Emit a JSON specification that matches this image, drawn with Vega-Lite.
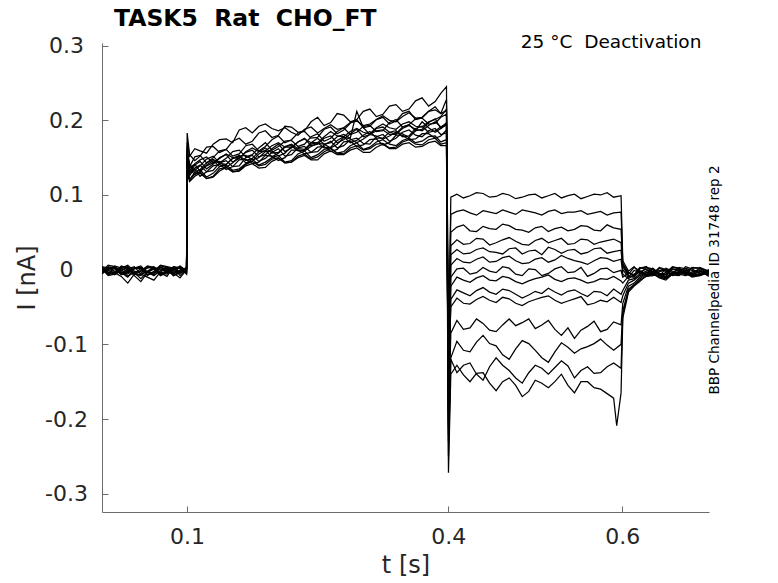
{
  "$schema": "https://vega.github.io/schema/vega-lite/v6.json",
  "width": 607,
  "height": 469,
  "autosize": {"type": "none"},
  "padding": {"left": 102, "top": 43, "right": 69, "bottom": 71},
  "background": "white",
  "config": {"view": {"stroke": null}, "font": "DejaVu Sans"},
  "title": {
    "text": "TASK5\u00a0\u00a0Rat\u00a0\u00a0CHO_FT",
    "anchor": "start",
    "frame": "group",
    "dx": 12,
    "dy": 21,
    "offset": 4,
    "baseline": "alphabetic",
    "font": "DejaVu Sans",
    "fontSize": 23.5,
    "fontWeight": "bold",
    "color": "black"
  },
  "layer": [
    {
      "data": {"values": [
        {"s":1,"t":0.0025,"i":-0.002},{"s":1,"t":0.017,"i":0.004},{"s":1,"t":0.032,"i":-0.006},{"s":1,"t":0.047,"i":0.001},{"s":1,"t":0.062,"i":-0.004},{"s":1,"t":0.077,"i":0.003},{"s":1,"t":0.092,"i":-0.001},{"s":1,"t":0.0995,"i":0.002},
        {"s":1,"t":0.1002,"i":0.183},
        {"s":1,"t":0.103,"i":0.154},{"s":1,"t":0.115,"i":0.152},{"s":1,"t":0.13,"i":0.165},{"s":1,"t":0.145,"i":0.161},{"s":1,"t":0.16,"i":0.176},{"s":1,"t":0.175,"i":0.172},{"s":1,"t":0.19,"i":0.186},{"s":1,"t":0.205,"i":0.180},{"s":1,"t":0.22,"i":0.191},{"s":1,"t":0.235,"i":0.186},{"s":1,"t":0.25,"i":0.204},{"s":1,"t":0.265,"i":0.197},{"s":1,"t":0.28,"i":0.207},{"s":1,"t":0.295,"i":0.201},{"s":1,"t":0.31,"i":0.215},{"s":1,"t":0.325,"i":0.208},{"s":1,"t":0.34,"i":0.221},{"s":1,"t":0.355,"i":0.215},{"s":1,"t":0.37,"i":0.230},{"s":1,"t":0.385,"i":0.225},{"s":1,"t":0.398,"i":0.245},
        {"s":1,"t":0.4003,"i":-0.12},
        {"s":1,"t":0.403,"i":0.097},{"s":1,"t":0.41,"i":0.101},{"s":1,"t":0.425,"i":0.099},{"s":1,"t":0.44,"i":0.102},{"s":1,"t":0.455,"i":0.098},{"s":1,"t":0.47,"i":0.100},{"s":1,"t":0.485,"i":0.097},{"s":1,"t":0.5,"i":0.101},{"s":1,"t":0.515,"i":0.099},{"s":1,"t":0.53,"i":0.096},{"s":1,"t":0.545,"i":0.101},{"s":1,"t":0.56,"i":0.098},{"s":1,"t":0.575,"i":0.100},{"s":1,"t":0.59,"i":0.097},{"s":1,"t":0.5985,"i":0.099},
        {"s":1,"t":0.6005,"i":0.012},{"s":1,"t":0.607,"i":-0.002},{"s":1,"t":0.62,"i":-0.006},{"s":1,"t":0.635,"i":0.001},{"s":1,"t":0.65,"i":-0.004},{"s":1,"t":0.665,"i":0.002},{"s":1,"t":0.68,"i":-0.007},{"s":1,"t":0.6993,"i":-0.002},
        {"s":1,"t":0.0095,"i":0.006},{"s":1,"t":0.0245,"i":-0.003},{"s":1,"t":0.0395,"i":0.003},{"s":1,"t":0.0545,"i":-0.007},{"s":1,"t":0.0695,"i":0.005},{"s":1,"t":0.0845,"i":-0.005},
        {"s":1,"t":0.109,"i":0.146},{"s":1,"t":0.1225,"i":0.164},{"s":1,"t":0.1375,"i":0.157},{"s":1,"t":0.1525,"i":0.172},{"s":1,"t":0.1675,"i":0.168},{"s":1,"t":0.1825,"i":0.183},{"s":1,"t":0.1975,"i":0.177},{"s":1,"t":0.2125,"i":0.192},{"s":1,"t":0.2275,"i":0.184},{"s":1,"t":0.2425,"i":0.198},{"s":1,"t":0.2575,"i":0.193},{"s":1,"t":0.2725,"i":0.209},{"s":1,"t":0.2875,"i":0.198},{"s":1,"t":0.3025,"i":0.212},{"s":1,"t":0.3175,"i":0.205},{"s":1,"t":0.3325,"i":0.219},{"s":1,"t":0.3475,"i":0.212},{"s":1,"t":0.3625,"i":0.226},{"s":1,"t":0.3775,"i":0.219},{"s":1,"t":0.3915,"i":0.236},
        {"s":1,"t":0.4175,"i":0.096},{"s":1,"t":0.4325,"i":0.103},{"s":1,"t":0.4475,"i":0.097},{"s":1,"t":0.4625,"i":0.102},{"s":1,"t":0.4775,"i":0.095},{"s":1,"t":0.4925,"i":0.100},{"s":1,"t":0.5075,"i":0.096},{"s":1,"t":0.5225,"i":0.102},{"s":1,"t":0.5375,"i":0.099},{"s":1,"t":0.5525,"i":0.095},{"s":1,"t":0.5675,"i":0.101},{"s":1,"t":0.5825,"i":0.103},
        {"s":1,"t":0.6135,"i":0.004},{"s":1,"t":0.6275,"i":0.003},{"s":1,"t":0.6425,"i":-0.007},{"s":1,"t":0.6575,"i":0.004},{"s":1,"t":0.6725,"i":-0.003},{"s":1,"t":0.689,"i":0.003},

        {"s":2,"t":0.0025,"i":0.003},{"s":2,"t":0.017,"i":-0.005},{"s":2,"t":0.032,"i":0.002},{"s":2,"t":0.047,"i":-0.008},{"s":2,"t":0.062,"i":0.001},{"s":2,"t":0.077,"i":-0.003},{"s":2,"t":0.092,"i":0.004},{"s":2,"t":0.0995,"i":-0.001},
        {"s":2,"t":0.1002,"i":0.165},
        {"s":2,"t":0.103,"i":0.138},{"s":2,"t":0.115,"i":0.153},{"s":2,"t":0.13,"i":0.150},{"s":2,"t":0.145,"i":0.161},{"s":2,"t":0.16,"i":0.155},{"s":2,"t":0.175,"i":0.168},{"s":2,"t":0.19,"i":0.165},{"s":2,"t":0.205,"i":0.179},{"s":2,"t":0.22,"i":0.174},{"s":2,"t":0.235,"i":0.185},{"s":2,"t":0.25,"i":0.177},{"s":2,"t":0.265,"i":0.191},{"s":2,"t":0.28,"i":0.187},{"s":2,"t":0.295,"i":0.201},{"s":2,"t":0.31,"i":0.192},{"s":2,"t":0.325,"i":0.204},{"s":2,"t":0.34,"i":0.199},{"s":2,"t":0.355,"i":0.212},{"s":2,"t":0.37,"i":0.203},{"s":2,"t":0.385,"i":0.214},{"s":2,"t":0.398,"i":0.228},
        {"s":2,"t":0.4003,"i":-0.09},
        {"s":2,"t":0.403,"i":0.074},{"s":2,"t":0.41,"i":0.078},{"s":2,"t":0.425,"i":0.076},{"s":2,"t":0.44,"i":0.079},{"s":2,"t":0.455,"i":0.075},{"s":2,"t":0.47,"i":0.077},{"s":2,"t":0.485,"i":0.080},{"s":2,"t":0.5,"i":0.076},{"s":2,"t":0.515,"i":0.078},{"s":2,"t":0.53,"i":0.075},{"s":2,"t":0.545,"i":0.077},{"s":2,"t":0.56,"i":0.074},{"s":2,"t":0.575,"i":0.078},{"s":2,"t":0.59,"i":0.076},{"s":2,"t":0.5985,"i":0.077},
        {"s":2,"t":0.6005,"i":0.008},{"s":2,"t":0.607,"i":-0.004},{"s":2,"t":0.62,"i":0.002},{"s":2,"t":0.635,"i":-0.005},{"s":2,"t":0.65,"i":0.000},{"s":2,"t":0.665,"i":-0.006},{"s":2,"t":0.68,"i":0.001},{"s":2,"t":0.6993,"i":-0.004},
        {"s":2,"t":0.0095,"i":-0.004},{"s":2,"t":0.0245,"i":0.005},{"s":2,"t":0.0395,"i":-0.006},{"s":2,"t":0.0545,"i":0.004},{"s":2,"t":0.0695,"i":-0.007},{"s":2,"t":0.0845,"i":0.002},
        {"s":2,"t":0.109,"i":0.151},{"s":2,"t":0.1225,"i":0.143},{"s":2,"t":0.1375,"i":0.159},{"s":2,"t":0.1525,"i":0.152},{"s":2,"t":0.1675,"i":0.166},{"s":2,"t":0.1825,"i":0.159},{"s":2,"t":0.1975,"i":0.174},{"s":2,"t":0.2125,"i":0.170},{"s":2,"t":0.2275,"i":0.183},{"s":2,"t":0.2425,"i":0.176},{"s":2,"t":0.2575,"i":0.188},{"s":2,"t":0.2725,"i":0.182},{"s":2,"t":0.2875,"i":0.196},{"s":2,"t":0.3025,"i":0.190},{"s":2,"t":0.3175,"i":0.201},{"s":2,"t":0.3325,"i":0.195},{"s":2,"t":0.3475,"i":0.209},{"s":2,"t":0.3625,"i":0.201},{"s":2,"t":0.3775,"i":0.212},{"s":2,"t":0.3915,"i":0.209},
        {"s":2,"t":0.4175,"i":0.080},{"s":2,"t":0.4325,"i":0.073},{"s":2,"t":0.4475,"i":0.077},{"s":2,"t":0.4625,"i":0.080},{"s":2,"t":0.4775,"i":0.074},{"s":2,"t":0.4925,"i":0.078},{"s":2,"t":0.5075,"i":0.073},{"s":2,"t":0.5225,"i":0.080},{"s":2,"t":0.5375,"i":0.077},{"s":2,"t":0.5525,"i":0.079},{"s":2,"t":0.5675,"i":0.076},{"s":2,"t":0.5825,"i":0.073},
        {"s":2,"t":0.6135,"i":-0.007},{"s":2,"t":0.6275,"i":0.004},{"s":2,"t":0.6425,"i":0.003},{"s":2,"t":0.6575,"i":-0.008},{"s":2,"t":0.6725,"i":0.004},{"s":2,"t":0.689,"i":-0.006},

        {"s":3,"t":0.0025,"i":-0.004},{"s":3,"t":0.017,"i":0.002},{"s":3,"t":0.032,"i":-0.003},{"s":3,"t":0.047,"i":0.005},{"s":3,"t":0.062,"i":-0.007},{"s":3,"t":0.077,"i":0.000},{"s":3,"t":0.092,"i":-0.002},{"s":3,"t":0.0995,"i":0.003},
        {"s":3,"t":0.1002,"i":0.158},
        {"s":3,"t":0.103,"i":0.141},{"s":3,"t":0.115,"i":0.139},{"s":3,"t":0.13,"i":0.152},{"s":3,"t":0.145,"i":0.149},{"s":3,"t":0.16,"i":0.160},{"s":3,"t":0.175,"i":0.154},{"s":3,"t":0.19,"i":0.170},{"s":3,"t":0.205,"i":0.165},{"s":3,"t":0.22,"i":0.173},{"s":3,"t":0.235,"i":0.168},{"s":3,"t":0.25,"i":0.182},{"s":3,"t":0.265,"i":0.176},{"s":3,"t":0.28,"i":0.190},{"s":3,"t":0.295,"i":0.184},{"s":3,"t":0.31,"i":0.193},{"s":3,"t":0.325,"i":0.186},{"s":3,"t":0.34,"i":0.201},{"s":3,"t":0.355,"i":0.194},{"s":3,"t":0.37,"i":0.203},{"s":3,"t":0.385,"i":0.196},{"s":3,"t":0.398,"i":0.208},
        {"s":3,"t":0.4003,"i":-0.15},
        {"s":3,"t":0.403,"i":0.050},{"s":3,"t":0.41,"i":0.057},{"s":3,"t":0.425,"i":0.052},{"s":3,"t":0.44,"i":0.058},{"s":3,"t":0.455,"i":0.054},{"s":3,"t":0.47,"i":0.059},{"s":3,"t":0.485,"i":0.053},{"s":3,"t":0.5,"i":0.056},{"s":3,"t":0.515,"i":0.051},{"s":3,"t":0.53,"i":0.057},{"s":3,"t":0.545,"i":0.054},{"s":3,"t":0.56,"i":0.058},{"s":3,"t":0.575,"i":0.052},{"s":3,"t":0.59,"i":0.056},{"s":3,"t":0.5985,"i":0.054},
        {"s":3,"t":0.6005,"i":0.006},{"s":3,"t":0.607,"i":-0.006},{"s":3,"t":0.62,"i":-0.001},{"s":3,"t":0.635,"i":-0.008},{"s":3,"t":0.65,"i":-0.002},{"s":3,"t":0.665,"i":0.003},{"s":3,"t":0.68,"i":-0.005},{"s":3,"t":0.6993,"i":-0.001},
        {"s":3,"t":0.0095,"i":0.004},{"s":3,"t":0.0245,"i":-0.006},{"s":3,"t":0.0395,"i":0.002},{"s":3,"t":0.0545,"i":-0.004},{"s":3,"t":0.0695,"i":0.003},{"s":3,"t":0.0845,"i":-0.008},
        {"s":3,"t":0.109,"i":0.133},{"s":3,"t":0.1225,"i":0.148},{"s":3,"t":0.1375,"i":0.143},{"s":3,"t":0.1525,"i":0.158},{"s":3,"t":0.1675,"i":0.151},{"s":3,"t":0.1825,"i":0.163},{"s":3,"t":0.1975,"i":0.160},{"s":3,"t":0.2125,"i":0.172},{"s":3,"t":0.2275,"i":0.165},{"s":3,"t":0.2425,"i":0.178},{"s":3,"t":0.2575,"i":0.172},{"s":3,"t":0.2725,"i":0.185},{"s":3,"t":0.2875,"i":0.181},{"s":3,"t":0.3025,"i":0.192},{"s":3,"t":0.3175,"i":0.185},{"s":3,"t":0.3325,"i":0.197},{"s":3,"t":0.3475,"i":0.191},{"s":3,"t":0.3625,"i":0.202},{"s":3,"t":0.3775,"i":0.195},{"s":3,"t":0.3915,"i":0.204},
        {"s":3,"t":0.4175,"i":0.060},{"s":3,"t":0.4325,"i":0.051},{"s":3,"t":0.4475,"i":0.055},{"s":3,"t":0.4625,"i":0.061},{"s":3,"t":0.4775,"i":0.054},{"s":3,"t":0.4925,"i":0.050},{"s":3,"t":0.5075,"i":0.058},{"s":3,"t":0.5225,"i":0.055},{"s":3,"t":0.5375,"i":0.052},{"s":3,"t":0.5525,"i":0.059},{"s":3,"t":0.5675,"i":0.053},{"s":3,"t":0.5825,"i":0.060},
        {"s":3,"t":0.6135,"i":0.003},{"s":3,"t":0.6275,"i":-0.009},{"s":3,"t":0.6425,"i":0.002},{"s":3,"t":0.6575,"i":-0.006},{"s":3,"t":0.6725,"i":0.001},{"s":3,"t":0.689,"i":-0.007},

        {"s":4,"t":0.0025,"i":0.001},{"s":4,"t":0.017,"i":-0.006},{"s":4,"t":0.032,"i":0.004},{"s":4,"t":0.047,"i":-0.002},{"s":4,"t":0.062,"i":0.003},{"s":4,"t":0.077,"i":-0.009},{"s":4,"t":0.092,"i":0.002},{"s":4,"t":0.0995,"i":-0.003},
        {"s":4,"t":0.1002,"i":0.152},
        {"s":4,"t":0.103,"i":0.130},{"s":4,"t":0.115,"i":0.145},{"s":4,"t":0.13,"i":0.141},{"s":4,"t":0.145,"i":0.154},{"s":4,"t":0.16,"i":0.149},{"s":4,"t":0.175,"i":0.160},{"s":4,"t":0.19,"i":0.154},{"s":4,"t":0.205,"i":0.168},{"s":4,"t":0.22,"i":0.163},{"s":4,"t":0.235,"i":0.176},{"s":4,"t":0.25,"i":0.168},{"s":4,"t":0.265,"i":0.179},{"s":4,"t":0.28,"i":0.174},{"s":4,"t":0.295,"i":0.188},{"s":4,"t":0.31,"i":0.181},{"s":4,"t":0.325,"i":0.191},{"s":4,"t":0.34,"i":0.182},{"s":4,"t":0.355,"i":0.194},{"s":4,"t":0.37,"i":0.188},{"s":4,"t":0.385,"i":0.202},{"s":4,"t":0.398,"i":0.194},
        {"s":4,"t":0.4003,"i":-0.17},
        {"s":4,"t":0.403,"i":0.032},{"s":4,"t":0.41,"i":0.040},{"s":4,"t":0.425,"i":0.035},{"s":4,"t":0.44,"i":0.041},{"s":4,"t":0.455,"i":0.036},{"s":4,"t":0.47,"i":0.043},{"s":4,"t":0.485,"i":0.034},{"s":4,"t":0.5,"i":0.039},{"s":4,"t":0.515,"i":0.036},{"s":4,"t":0.53,"i":0.042},{"s":4,"t":0.545,"i":0.035},{"s":4,"t":0.56,"i":0.040},{"s":4,"t":0.575,"i":0.037},{"s":4,"t":0.59,"i":0.041},{"s":4,"t":0.5985,"i":0.036},
        {"s":4,"t":0.6005,"i":0.004},{"s":4,"t":0.607,"i":-0.008},{"s":4,"t":0.62,"i":0.001},{"s":4,"t":0.635,"i":-0.003},{"s":4,"t":0.65,"i":-0.009},{"s":4,"t":0.665,"i":-0.001},{"s":4,"t":0.68,"i":0.003},{"s":4,"t":0.6993,"i":-0.006},
        {"s":4,"t":0.0095,"i":-0.008},{"s":4,"t":0.0245,"i":0.003},{"s":4,"t":0.0395,"i":-0.005},{"s":4,"t":0.0545,"i":0.005},{"s":4,"t":0.0695,"i":-0.004},{"s":4,"t":0.0845,"i":0.004},
        {"s":4,"t":0.109,"i":0.140},{"s":4,"t":0.1225,"i":0.135},{"s":4,"t":0.1375,"i":0.150},{"s":4,"t":0.1525,"i":0.144},{"s":4,"t":0.1675,"i":0.157},{"s":4,"t":0.1825,"i":0.151},{"s":4,"t":0.1975,"i":0.162},{"s":4,"t":0.2125,"i":0.158},{"s":4,"t":0.2275,"i":0.171},{"s":4,"t":0.2425,"i":0.166},{"s":4,"t":0.2575,"i":0.176},{"s":4,"t":0.2725,"i":0.170},{"s":4,"t":0.2875,"i":0.182},{"s":4,"t":0.3025,"i":0.178},{"s":4,"t":0.3175,"i":0.189},{"s":4,"t":0.3325,"i":0.184},{"s":4,"t":0.3475,"i":0.191},{"s":4,"t":0.3625,"i":0.186},{"s":4,"t":0.3775,"i":0.197},{"s":4,"t":0.3915,"i":0.189},
        {"s":4,"t":0.4175,"i":0.034},{"s":4,"t":0.4325,"i":0.042},{"s":4,"t":0.4475,"i":0.033},{"s":4,"t":0.4625,"i":0.040},{"s":4,"t":0.4775,"i":0.038},{"s":4,"t":0.4925,"i":0.033},{"s":4,"t":0.5075,"i":0.042},{"s":4,"t":0.5225,"i":0.039},{"s":4,"t":0.5375,"i":0.034},{"s":4,"t":0.5525,"i":0.041},{"s":4,"t":0.5675,"i":0.034},{"s":4,"t":0.5825,"i":0.039},
        {"s":4,"t":0.6135,"i":-0.010},{"s":4,"t":0.6275,"i":0.004},{"s":4,"t":0.6425,"i":-0.006},{"s":4,"t":0.6575,"i":0.001},{"s":4,"t":0.6725,"i":-0.007},{"s":4,"t":0.689,"i":0.002},

        {"s":5,"t":0.0025,"i":-0.006},{"s":5,"t":0.017,"i":0.001},{"s":5,"t":0.032,"i":-0.010},{"s":5,"t":0.047,"i":0.003},{"s":5,"t":0.062,"i":-0.002},{"s":5,"t":0.077,"i":0.004},{"s":5,"t":0.092,"i":-0.005},{"s":5,"t":0.0995,"i":0.000},
        {"s":5,"t":0.1002,"i":0.149},
        {"s":5,"t":0.103,"i":0.135},{"s":5,"t":0.115,"i":0.131},{"s":5,"t":0.13,"i":0.146},{"s":5,"t":0.145,"i":0.141},{"s":5,"t":0.16,"i":0.152},{"s":5,"t":0.175,"i":0.145},{"s":5,"t":0.19,"i":0.160},{"s":5,"t":0.205,"i":0.156},{"s":5,"t":0.22,"i":0.167},{"s":5,"t":0.235,"i":0.160},{"s":5,"t":0.25,"i":0.170},{"s":5,"t":0.265,"i":0.164},{"s":5,"t":0.28,"i":0.178},{"s":5,"t":0.295,"i":0.173},{"s":5,"t":0.31,"i":0.185},{"s":5,"t":0.325,"i":0.176},{"s":5,"t":0.34,"i":0.186},{"s":5,"t":0.355,"i":0.179},{"s":5,"t":0.37,"i":0.192},{"s":5,"t":0.385,"i":0.186},{"s":5,"t":0.398,"i":0.194},
        {"s":5,"t":0.4003,"i":-0.19},
        {"s":5,"t":0.403,"i":0.020},{"s":5,"t":0.41,"i":0.027},{"s":5,"t":0.425,"i":0.022},{"s":5,"t":0.44,"i":0.029},{"s":5,"t":0.455,"i":0.023},{"s":5,"t":0.47,"i":0.028},{"s":5,"t":0.485,"i":0.021},{"s":5,"t":0.5,"i":0.026},{"s":5,"t":0.515,"i":0.030},{"s":5,"t":0.53,"i":0.022},{"s":5,"t":0.545,"i":0.027},{"s":5,"t":0.56,"i":0.023},{"s":5,"t":0.575,"i":0.029},{"s":5,"t":0.59,"i":0.024},{"s":5,"t":0.5985,"i":0.026},
        {"s":5,"t":0.6005,"i":0.000},{"s":5,"t":0.607,"i":-0.010},{"s":5,"t":0.62,"i":-0.004},{"s":5,"t":0.635,"i":0.002},{"s":5,"t":0.65,"i":-0.006},{"s":5,"t":0.665,"i":0.001},{"s":5,"t":0.68,"i":-0.008},{"s":5,"t":0.6993,"i":0.000},
        {"s":5,"t":0.0095,"i":0.003},{"s":5,"t":0.0245,"i":-0.004},{"s":5,"t":0.0395,"i":0.001},{"s":5,"t":0.0545,"i":-0.008},{"s":5,"t":0.0695,"i":0.006},{"s":5,"t":0.0845,"i":-0.002},
        {"s":5,"t":0.109,"i":0.127},{"s":5,"t":0.1225,"i":0.140},{"s":5,"t":0.1375,"i":0.138},{"s":5,"t":0.1525,"i":0.149},{"s":5,"t":0.1675,"i":0.143},{"s":5,"t":0.1825,"i":0.155},{"s":5,"t":0.1975,"i":0.151},{"s":5,"t":0.2125,"i":0.164},{"s":5,"t":0.2275,"i":0.159},{"s":5,"t":0.2425,"i":0.168},{"s":5,"t":0.2575,"i":0.163},{"s":5,"t":0.2725,"i":0.173},{"s":5,"t":0.2875,"i":0.170},{"s":5,"t":0.3025,"i":0.180},{"s":5,"t":0.3175,"i":0.176},{"s":5,"t":0.3325,"i":0.184},{"s":5,"t":0.3475,"i":0.178},{"s":5,"t":0.3625,"i":0.189},{"s":5,"t":0.3775,"i":0.184},{"s":5,"t":0.3915,"i":0.191},
        {"s":5,"t":0.4175,"i":0.021},{"s":5,"t":0.4325,"i":0.027},{"s":5,"t":0.4475,"i":0.024},{"s":5,"t":0.4625,"i":0.021},{"s":5,"t":0.4775,"i":0.029},{"s":5,"t":0.4925,"i":0.025},{"s":5,"t":0.5075,"i":0.020},{"s":5,"t":0.5225,"i":0.027},{"s":5,"t":0.5375,"i":0.026},{"s":5,"t":0.5525,"i":0.021},{"s":5,"t":0.5675,"i":0.028},{"s":5,"t":0.5825,"i":0.022},
        {"s":5,"t":0.6135,"i":-0.001},{"s":5,"t":0.6275,"i":-0.008},{"s":5,"t":0.6425,"i":-0.005},{"s":5,"t":0.6575,"i":0.003},{"s":5,"t":0.6725,"i":-0.003},{"s":5,"t":0.689,"i":-0.006},

        {"s":6,"t":0.0025,"i":0.002},{"s":6,"t":0.017,"i":-0.003},{"s":6,"t":0.032,"i":0.006},{"s":6,"t":0.047,"i":-0.005},{"s":6,"t":0.062,"i":0.001},{"s":6,"t":0.077,"i":-0.004},{"s":6,"t":0.092,"i":0.003},{"s":6,"t":0.0995,"i":-0.006},
        {"s":6,"t":0.1002,"i":0.147},
        {"s":6,"t":0.103,"i":0.126},{"s":6,"t":0.115,"i":0.140},{"s":6,"t":0.13,"i":0.133},{"s":6,"t":0.145,"i":0.146},{"s":6,"t":0.16,"i":0.139},{"s":6,"t":0.175,"i":0.153},{"s":6,"t":0.19,"i":0.149},{"s":6,"t":0.205,"i":0.162},{"s":6,"t":0.22,"i":0.154},{"s":6,"t":0.235,"i":0.165},{"s":6,"t":0.25,"i":0.158},{"s":6,"t":0.265,"i":0.172},{"s":6,"t":0.28,"i":0.166},{"s":6,"t":0.295,"i":0.176},{"s":6,"t":0.31,"i":0.168},{"s":6,"t":0.325,"i":0.181},{"s":6,"t":0.34,"i":0.176},{"s":6,"t":0.355,"i":0.187},{"s":6,"t":0.37,"i":0.178},{"s":6,"t":0.385,"i":0.189},{"s":6,"t":0.398,"i":0.183},
        {"s":6,"t":0.4003,"i":-0.21},
        {"s":6,"t":0.403,"i":0.006},{"s":6,"t":0.41,"i":0.015},{"s":6,"t":0.425,"i":0.009},{"s":6,"t":0.44,"i":0.017},{"s":6,"t":0.455,"i":0.011},{"s":6,"t":0.47,"i":0.018},{"s":6,"t":0.485,"i":0.008},{"s":6,"t":0.5,"i":0.014},{"s":6,"t":0.515,"i":0.010},{"s":6,"t":0.53,"i":0.019},{"s":6,"t":0.545,"i":0.012},{"s":6,"t":0.56,"i":0.007},{"s":6,"t":0.575,"i":0.016},{"s":6,"t":0.59,"i":0.011},{"s":6,"t":0.5985,"i":0.014},
        {"s":6,"t":0.6005,"i":-0.006},{"s":6,"t":0.607,"i":-0.012},{"s":6,"t":0.62,"i":-0.003},{"s":6,"t":0.635,"i":-0.007},{"s":6,"t":0.65,"i":0.002},{"s":6,"t":0.665,"i":-0.005},{"s":6,"t":0.68,"i":-0.001},{"s":6,"t":0.6993,"i":-0.007},
        {"s":6,"t":0.0095,"i":-0.006},{"s":6,"t":0.0245,"i":0.002},{"s":6,"t":0.0395,"i":-0.002},{"s":6,"t":0.0545,"i":0.004},{"s":6,"t":0.0695,"i":-0.008},{"s":6,"t":0.0845,"i":0.000},
        {"s":6,"t":0.109,"i":0.136},{"s":6,"t":0.1225,"i":0.131},{"s":6,"t":0.1375,"i":0.143},{"s":6,"t":0.1525,"i":0.138},{"s":6,"t":0.1675,"i":0.150},{"s":6,"t":0.1825,"i":0.145},{"s":6,"t":0.1975,"i":0.157},{"s":6,"t":0.2125,"i":0.152},{"s":6,"t":0.2275,"i":0.163},{"s":6,"t":0.2425,"i":0.157},{"s":6,"t":0.2575,"i":0.167},{"s":6,"t":0.2725,"i":0.163},{"s":6,"t":0.2875,"i":0.174},{"s":6,"t":0.3025,"i":0.169},{"s":6,"t":0.3175,"i":0.178},{"s":6,"t":0.3325,"i":0.172},{"s":6,"t":0.3475,"i":0.184},{"s":6,"t":0.3625,"i":0.180},{"s":6,"t":0.3775,"i":0.186},{"s":6,"t":0.3915,"i":0.181},
        {"s":6,"t":0.4175,"i":0.010},{"s":6,"t":0.4325,"i":0.014},{"s":6,"t":0.4475,"i":0.010},{"s":6,"t":0.4625,"i":0.016},{"s":6,"t":0.4775,"i":0.012},{"s":6,"t":0.4925,"i":0.009},{"s":6,"t":0.5075,"i":0.016},{"s":6,"t":0.5225,"i":0.013},{"s":6,"t":0.5375,"i":0.015},{"s":6,"t":0.5525,"i":0.010},{"s":6,"t":0.5675,"i":0.012},{"s":6,"t":0.5825,"i":0.015},
        {"s":6,"t":0.6135,"i":-0.006},{"s":6,"t":0.6275,"i":0.001},{"s":6,"t":0.6425,"i":-0.009},{"s":6,"t":0.6575,"i":-0.002},{"s":6,"t":0.6725,"i":0.002},{"s":6,"t":0.689,"i":-0.004},

        {"s":7,"t":0.0025,"i":-0.003},{"s":7,"t":0.017,"i":0.004},{"s":7,"t":0.032,"i":-0.001},{"s":7,"t":0.047,"i":-0.012},{"s":7,"t":0.062,"i":0.002},{"s":7,"t":0.077,"i":-0.001},{"s":7,"t":0.092,"i":-0.008},{"s":7,"t":0.0995,"i":0.001},
        {"s":7,"t":0.1002,"i":0.142},
        {"s":7,"t":0.103,"i":0.129},{"s":7,"t":0.115,"i":0.125},{"s":7,"t":0.13,"i":0.139},{"s":7,"t":0.145,"i":0.134},{"s":7,"t":0.16,"i":0.147},{"s":7,"t":0.175,"i":0.142},{"s":7,"t":0.19,"i":0.153},{"s":7,"t":0.205,"i":0.146},{"s":7,"t":0.22,"i":0.160},{"s":7,"t":0.235,"i":0.155},{"s":7,"t":0.25,"i":0.164},{"s":7,"t":0.265,"i":0.158},{"s":7,"t":0.28,"i":0.171},{"s":7,"t":0.295,"i":0.165},{"s":7,"t":0.31,"i":0.174},{"s":7,"t":0.325,"i":0.167},{"s":7,"t":0.34,"i":0.180},{"s":7,"t":0.355,"i":0.174},{"s":7,"t":0.37,"i":0.182},{"s":7,"t":0.385,"i":0.176},{"s":7,"t":0.398,"i":0.187},
        {"s":7,"t":0.4003,"i":-0.16},
        {"s":7,"t":0.403,"i":-0.010},{"s":7,"t":0.41,"i":0.001},{"s":7,"t":0.425,"i":-0.006},{"s":7,"t":0.44,"i":0.003},{"s":7,"t":0.455,"i":-0.004},{"s":7,"t":0.47,"i":0.002},{"s":7,"t":0.485,"i":-0.008},{"s":7,"t":0.5,"i":0.000},{"s":7,"t":0.515,"i":-0.005},{"s":7,"t":0.53,"i":0.004},{"s":7,"t":0.545,"i":-0.003},{"s":7,"t":0.56,"i":-0.009},{"s":7,"t":0.575,"i":0.001},{"s":7,"t":0.59,"i":-0.004},{"s":7,"t":0.5985,"i":-0.001},
        {"s":7,"t":0.6005,"i":-0.010},{"s":7,"t":0.607,"i":-0.004},{"s":7,"t":0.62,"i":0.003},{"s":7,"t":0.635,"i":-0.006},{"s":7,"t":0.65,"i":-0.002},{"s":7,"t":0.665,"i":-0.008},{"s":7,"t":0.68,"i":0.002},{"s":7,"t":0.6993,"i":-0.003},
        {"s":7,"t":0.0095,"i":0.001},{"s":7,"t":0.0245,"i":-0.006},{"s":7,"t":0.0395,"i":-0.004},{"s":7,"t":0.0545,"i":-0.003},{"s":7,"t":0.0695,"i":-0.006},{"s":7,"t":0.0845,"i":0.003},
        {"s":7,"t":0.109,"i":0.135},{"s":7,"t":0.1225,"i":0.131},{"s":7,"t":0.1375,"i":0.141},{"s":7,"t":0.1525,"i":0.138},{"s":7,"t":0.1675,"i":0.148},{"s":7,"t":0.1825,"i":0.144},{"s":7,"t":0.1975,"i":0.152},{"s":7,"t":0.2125,"i":0.150},{"s":7,"t":0.2275,"i":0.160},{"s":7,"t":0.2425,"i":0.157},{"s":7,"t":0.2575,"i":0.165},{"s":7,"t":0.2725,"i":0.161},{"s":7,"t":0.2875,"i":0.172},{"s":7,"t":0.3025,"i":0.167},{"s":7,"t":0.3175,"i":0.175},{"s":7,"t":0.3325,"i":0.170},{"s":7,"t":0.3475,"i":0.180},{"s":7,"t":0.3625,"i":0.175},{"s":7,"t":0.3775,"i":0.182},{"s":7,"t":0.3915,"i":0.179},
        {"s":7,"t":0.4175,"i":0.002},{"s":7,"t":0.4325,"i":-0.004},{"s":7,"t":0.4475,"i":-0.002},{"s":7,"t":0.4625,"i":0.004},{"s":7,"t":0.4775,"i":-0.006},{"s":7,"t":0.4925,"i":0.001},{"s":7,"t":0.5075,"i":-0.008},{"s":7,"t":0.5225,"i":0.001},{"s":7,"t":0.5375,"i":-0.004},{"s":7,"t":0.5525,"i":0.003},{"s":7,"t":0.5675,"i":-0.005},{"s":7,"t":0.5825,"i":0.002},
        {"s":7,"t":0.6135,"i":-0.008},{"s":7,"t":0.6275,"i":0.000},{"s":7,"t":0.6425,"i":-0.001},{"s":7,"t":0.6575,"i":-0.007},{"s":7,"t":0.6725,"i":-0.002},{"s":7,"t":0.689,"i":0.002},

        {"s":8,"t":0.0025,"i":0.004},{"s":8,"t":0.017,"i":-0.002},{"s":8,"t":0.032,"i":0.001},{"s":8,"t":0.047,"i":-0.006},{"s":8,"t":0.062,"i":-0.014},{"s":8,"t":0.077,"i":0.002},{"s":8,"t":0.092,"i":-0.004},{"s":8,"t":0.0995,"i":0.003},
        {"s":8,"t":0.1002,"i":0.140},
        {"s":8,"t":0.103,"i":0.121},{"s":8,"t":0.115,"i":0.134},{"s":8,"t":0.13,"i":0.129},{"s":8,"t":0.145,"i":0.140},{"s":8,"t":0.16,"i":0.135},{"s":8,"t":0.175,"i":0.148},{"s":8,"t":0.19,"i":0.144},{"s":8,"t":0.205,"i":0.153},{"s":8,"t":0.22,"i":0.146},{"s":8,"t":0.235,"i":0.159},{"s":8,"t":0.25,"i":0.154},{"s":8,"t":0.265,"i":0.163},{"s":8,"t":0.28,"i":0.158},{"s":8,"t":0.295,"i":0.170},{"s":8,"t":0.31,"i":0.164},{"s":8,"t":0.325,"i":0.174},{"s":8,"t":0.34,"i":0.166},{"s":8,"t":0.355,"i":0.176},{"s":8,"t":0.37,"i":0.172},{"s":8,"t":0.385,"i":0.179},{"s":8,"t":0.398,"i":0.174},
        {"s":8,"t":0.4003,"i":-0.22},
        {"s":8,"t":0.403,"i":-0.022},{"s":8,"t":0.41,"i":-0.010},{"s":8,"t":0.425,"i":-0.017},{"s":8,"t":0.44,"i":-0.008},{"s":8,"t":0.455,"i":-0.015},{"s":8,"t":0.47,"i":-0.011},{"s":8,"t":0.485,"i":-0.019},{"s":8,"t":0.5,"i":-0.012},{"s":8,"t":0.515,"i":-0.007},{"s":8,"t":0.53,"i":-0.016},{"s":8,"t":0.545,"i":-0.011},{"s":8,"t":0.56,"i":-0.018},{"s":8,"t":0.575,"i":-0.012},{"s":8,"t":0.59,"i":-0.009},{"s":8,"t":0.5985,"i":-0.015},
        {"s":8,"t":0.6005,"i":-0.018},{"s":8,"t":0.607,"i":-0.009},{"s":8,"t":0.62,"i":-0.002},{"s":8,"t":0.635,"i":-0.008},{"s":8,"t":0.65,"i":0.001},{"s":8,"t":0.665,"i":-0.006},{"s":8,"t":0.68,"i":-0.003},{"s":8,"t":0.6993,"i":-0.008},
        {"s":8,"t":0.0095,"i":0.002},{"s":8,"t":0.0245,"i":-0.005},{"s":8,"t":0.0395,"i":0.004},{"s":8,"t":0.0545,"i":-0.010},{"s":8,"t":0.0695,"i":-0.003},{"s":8,"t":0.0845,"i":-0.008},
        {"s":8,"t":0.109,"i":0.130},{"s":8,"t":0.1225,"i":0.124},{"s":8,"t":0.1375,"i":0.138},{"s":8,"t":0.1525,"i":0.133},{"s":8,"t":0.1675,"i":0.142},{"s":8,"t":0.1825,"i":0.140},{"s":8,"t":0.1975,"i":0.150},{"s":8,"t":0.2125,"i":0.144},{"s":8,"t":0.2275,"i":0.155},{"s":8,"t":0.2425,"i":0.150},{"s":8,"t":0.2575,"i":0.161},{"s":8,"t":0.2725,"i":0.156},{"s":8,"t":0.2875,"i":0.166},{"s":8,"t":0.3025,"i":0.161},{"s":8,"t":0.3175,"i":0.171},{"s":8,"t":0.3325,"i":0.168},{"s":8,"t":0.3475,"i":0.173},{"s":8,"t":0.3625,"i":0.170},{"s":8,"t":0.3775,"i":0.178},{"s":8,"t":0.3915,"i":0.171},
        {"s":8,"t":0.4175,"i":-0.014},{"s":8,"t":0.4325,"i":-0.011},{"s":8,"t":0.4475,"i":-0.014},{"s":8,"t":0.4625,"i":-0.009},{"s":8,"t":0.4775,"i":-0.016},{"s":8,"t":0.4925,"i":-0.015},{"s":8,"t":0.5075,"i":-0.010},{"s":8,"t":0.5225,"i":-0.013},{"s":8,"t":0.5375,"i":-0.012},{"s":8,"t":0.5525,"i":-0.014},{"s":8,"t":0.5675,"i":-0.016},{"s":8,"t":0.5825,"i":-0.013},
        {"s":8,"t":0.6135,"i":-0.010},{"s":8,"t":0.6275,"i":-0.006},{"s":8,"t":0.6425,"i":-0.003},{"s":8,"t":0.6575,"i":-0.004},{"s":8,"t":0.6725,"i":-0.008},{"s":8,"t":0.689,"i":0.000},

        {"s":9,"t":0.0025,"i":-0.001},{"s":9,"t":0.017,"i":0.003},{"s":9,"t":0.032,"i":-0.009},{"s":9,"t":0.047,"i":-0.002},{"s":9,"t":0.062,"i":0.004},{"s":9,"t":0.077,"i":-0.003},{"s":9,"t":0.092,"i":0.001},{"s":9,"t":0.0995,"i":-0.004},
        {"s":9,"t":0.1002,"i":0.170},
        {"s":9,"t":0.103,"i":0.152},{"s":9,"t":0.115,"i":0.159},{"s":9,"t":0.13,"i":0.168},{"s":9,"t":0.145,"i":0.175},{"s":9,"t":0.16,"i":0.187},{"s":9,"t":0.175,"i":0.183},{"s":9,"t":0.19,"i":0.195},{"s":9,"t":0.205,"i":0.186},{"s":9,"t":0.22,"i":0.184},{"s":9,"t":0.235,"i":0.188},{"s":9,"t":0.25,"i":0.183},{"s":9,"t":0.265,"i":0.194},{"s":9,"t":0.28,"i":0.190},{"s":9,"t":0.295,"i":0.199},{"s":9,"t":0.31,"i":0.195},{"s":9,"t":0.325,"i":0.206},{"s":9,"t":0.34,"i":0.198},{"s":9,"t":0.355,"i":0.210},{"s":9,"t":0.37,"i":0.204},{"s":9,"t":0.385,"i":0.218},{"s":9,"t":0.398,"i":0.213},
        {"s":9,"t":0.4003,"i":-0.18},
        {"s":9,"t":0.403,"i":-0.040},{"s":9,"t":0.41,"i":-0.027},{"s":9,"t":0.425,"i":-0.035},{"s":9,"t":0.44,"i":-0.024},{"s":9,"t":0.455,"i":-0.033},{"s":9,"t":0.47,"i":-0.028},{"s":9,"t":0.485,"i":-0.038},{"s":9,"t":0.5,"i":-0.029},{"s":9,"t":0.515,"i":-0.025},{"s":9,"t":0.53,"i":-0.034},{"s":9,"t":0.545,"i":-0.027},{"s":9,"t":0.56,"i":-0.036},{"s":9,"t":0.575,"i":-0.030},{"s":9,"t":0.59,"i":-0.026},{"s":9,"t":0.5985,"i":-0.033},
        {"s":9,"t":0.6005,"i":-0.028},{"s":9,"t":0.607,"i":-0.014},{"s":9,"t":0.62,"i":-0.006},{"s":9,"t":0.635,"i":0.000},{"s":9,"t":0.65,"i":-0.007},{"s":9,"t":0.665,"i":-0.002},{"s":9,"t":0.68,"i":-0.009},{"s":9,"t":0.6993,"i":-0.001},
        {"s":9,"t":0.0095,"i":-0.005},{"s":9,"t":0.0245,"i":0.000},{"s":9,"t":0.0395,"i":-0.003},{"s":9,"t":0.0545,"i":0.002},{"s":9,"t":0.0695,"i":-0.005},{"s":9,"t":0.0845,"i":0.004},
        {"s":9,"t":0.109,"i":0.162},{"s":9,"t":0.1225,"i":0.156},{"s":9,"t":0.1375,"i":0.174},{"s":9,"t":0.1525,"i":0.170},{"s":9,"t":0.1675,"i":0.190},{"s":9,"t":0.1825,"i":0.192},{"s":9,"t":0.1975,"i":0.189},{"s":9,"t":0.2125,"i":0.190},{"s":9,"t":0.2275,"i":0.180},{"s":9,"t":0.2425,"i":0.191},{"s":9,"t":0.2575,"i":0.189},{"s":9,"t":0.2725,"i":0.188},{"s":9,"t":0.2875,"i":0.197},{"s":9,"t":0.3025,"i":0.193},{"s":9,"t":0.3175,"i":0.201},{"s":9,"t":0.3325,"i":0.200},{"s":9,"t":0.3475,"i":0.205},{"s":9,"t":0.3625,"i":0.203},{"s":9,"t":0.3775,"i":0.212},{"s":9,"t":0.3915,"i":0.209},
        {"s":9,"t":0.4175,"i":-0.031},{"s":9,"t":0.4325,"i":-0.028},{"s":9,"t":0.4475,"i":-0.030},{"s":9,"t":0.4625,"i":-0.026},{"s":9,"t":0.4775,"i":-0.033},{"s":9,"t":0.4925,"i":-0.034},{"s":9,"t":0.5075,"i":-0.032},{"s":9,"t":0.5225,"i":-0.030},{"s":9,"t":0.5375,"i":-0.029},{"s":9,"t":0.5525,"i":-0.032},{"s":9,"t":0.5675,"i":-0.029},{"s":9,"t":0.5825,"i":-0.035},
        {"s":9,"t":0.6135,"i":-0.012},{"s":9,"t":0.6275,"i":-0.002},{"s":9,"t":0.6425,"i":-0.006},{"s":9,"t":0.6575,"i":0.001},{"s":9,"t":0.6725,"i":-0.005},{"s":9,"t":0.689,"i":-0.006},

        {"s":10,"t":0.0025,"i":0.002},{"s":10,"t":0.017,"i":-0.007},{"s":10,"t":0.032,"i":0.003},{"s":10,"t":0.047,"i":-0.016},{"s":10,"t":0.062,"i":0.001},{"s":10,"t":0.077,"i":-0.002},{"s":10,"t":0.092,"i":0.005},{"s":10,"t":0.0995,"i":-0.002},
        {"s":10,"t":0.1002,"i":0.155},
        {"s":10,"t":0.103,"i":0.139},{"s":10,"t":0.115,"i":0.134},{"s":10,"t":0.13,"i":0.148},{"s":10,"t":0.145,"i":0.141},{"s":10,"t":0.16,"i":0.153},{"s":10,"t":0.175,"i":0.149},{"s":10,"t":0.19,"i":0.163},{"s":10,"t":0.205,"i":0.157},{"s":10,"t":0.22,"i":0.168},{"s":10,"t":0.235,"i":0.161},{"s":10,"t":0.25,"i":0.176},{"s":10,"t":0.265,"i":0.170},{"s":10,"t":0.28,"i":0.181},{"s":10,"t":0.295,"i":0.212},{"s":10,"t":0.31,"i":0.181},{"s":10,"t":0.325,"i":0.187},{"s":10,"t":0.34,"i":0.181},{"s":10,"t":0.355,"i":0.193},{"s":10,"t":0.37,"i":0.186},{"s":10,"t":0.385,"i":0.198},{"s":10,"t":0.398,"i":0.196},
        {"s":10,"t":0.4003,"i":-0.14},
        {"s":10,"t":0.403,"i":-0.050},{"s":10,"t":0.41,"i":-0.038},{"s":10,"t":0.425,"i":-0.046},{"s":10,"t":0.44,"i":-0.036},{"s":10,"t":0.455,"i":-0.044},{"s":10,"t":0.47,"i":-0.039},{"s":10,"t":0.485,"i":-0.048},{"s":10,"t":0.5,"i":-0.040},{"s":10,"t":0.515,"i":-0.035},{"s":10,"t":0.53,"i":-0.045},{"s":10,"t":0.545,"i":-0.039},{"s":10,"t":0.56,"i":-0.047},{"s":10,"t":0.575,"i":-0.041},{"s":10,"t":0.59,"i":-0.037},{"s":10,"t":0.5985,"i":-0.044},
        {"s":10,"t":0.6005,"i":-0.035},{"s":10,"t":0.607,"i":-0.018},{"s":10,"t":0.62,"i":-0.008},{"s":10,"t":0.635,"i":-0.002},{"s":10,"t":0.65,"i":-0.010},{"s":10,"t":0.665,"i":0.001},{"s":10,"t":0.68,"i":-0.005},{"s":10,"t":0.6993,"i":-0.009},
        {"s":10,"t":0.0095,"i":-0.003},{"s":10,"t":0.0245,"i":-0.001},{"s":10,"t":0.0395,"i":-0.008},{"s":10,"t":0.0545,"i":-0.004},{"s":10,"t":0.0695,"i":0.003},{"s":10,"t":0.0845,"i":-0.006},
        {"s":10,"t":0.109,"i":0.130},{"s":10,"t":0.1225,"i":0.143},{"s":10,"t":0.1375,"i":0.142},{"s":10,"t":0.1525,"i":0.149},{"s":10,"t":0.1675,"i":0.146},{"s":10,"t":0.1825,"i":0.158},{"s":10,"t":0.1975,"i":0.156},{"s":10,"t":0.2125,"i":0.165},{"s":10,"t":0.2275,"i":0.162},{"s":10,"t":0.2425,"i":0.170},{"s":10,"t":0.2575,"i":0.168},{"s":10,"t":0.2725,"i":0.178},{"s":10,"t":0.2875,"i":0.176},{"s":10,"t":0.3025,"i":0.190},{"s":10,"t":0.3175,"i":0.186},{"s":10,"t":0.3325,"i":0.181},{"s":10,"t":0.3475,"i":0.189},{"s":10,"t":0.3625,"i":0.188},{"s":10,"t":0.3775,"i":0.193},{"s":10,"t":0.3915,"i":0.191},
        {"s":10,"t":0.4175,"i":-0.045},{"s":10,"t":0.4325,"i":-0.040},{"s":10,"t":0.4475,"i":-0.041},{"s":10,"t":0.4625,"i":-0.037},{"s":10,"t":0.4775,"i":-0.045},{"s":10,"t":0.4925,"i":-0.043},{"s":10,"t":0.5075,"i":-0.037},{"s":10,"t":0.5225,"i":-0.041},{"s":10,"t":0.5375,"i":-0.042},{"s":10,"t":0.5525,"i":-0.036},{"s":10,"t":0.5675,"i":-0.045},{"s":10,"t":0.5825,"i":-0.043},
        {"s":10,"t":0.6135,"i":-0.014},{"s":10,"t":0.6275,"i":-0.004},{"s":10,"t":0.6425,"i":-0.007},{"s":10,"t":0.6575,"i":-0.004},{"s":10,"t":0.6725,"i":-0.008},{"s":10,"t":0.689,"i":-0.001},

        {"s":11,"t":0.0025,"i":-0.005},{"s":11,"t":0.017,"i":0.002},{"s":11,"t":0.032,"i":-0.004},{"s":11,"t":0.047,"i":0.003},{"s":11,"t":0.062,"i":-0.008},{"s":11,"t":0.077,"i":0.004},{"s":11,"t":0.092,"i":-0.003},{"s":11,"t":0.0995,"i":0.002},
        {"s":11,"t":0.1002,"i":0.138},
        {"s":11,"t":0.103,"i":0.120},{"s":11,"t":0.115,"i":0.131},{"s":11,"t":0.13,"i":0.125},{"s":11,"t":0.145,"i":0.137},{"s":11,"t":0.16,"i":0.133},{"s":11,"t":0.175,"i":0.145},{"s":11,"t":0.19,"i":0.141},{"s":11,"t":0.205,"i":0.150},{"s":11,"t":0.22,"i":0.144},{"s":11,"t":0.235,"i":0.155},{"s":11,"t":0.25,"i":0.151},{"s":11,"t":0.265,"i":0.162},{"s":11,"t":0.28,"i":0.155},{"s":11,"t":0.295,"i":0.166},{"s":11,"t":0.31,"i":0.162},{"s":11,"t":0.325,"i":0.169},{"s":11,"t":0.34,"i":0.164},{"s":11,"t":0.355,"i":0.174},{"s":11,"t":0.37,"i":0.167},{"s":11,"t":0.385,"i":0.176},{"s":11,"t":0.398,"i":0.170},
        {"s":11,"t":0.4003,"i":-0.20},
        {"s":11,"t":0.403,"i":-0.085},{"s":11,"t":0.41,"i":-0.068},{"s":11,"t":0.425,"i":-0.078},{"s":11,"t":0.44,"i":-0.072},{"s":11,"t":0.455,"i":-0.083},{"s":11,"t":0.47,"i":-0.066},{"s":11,"t":0.485,"i":-0.071},{"s":11,"t":0.5,"i":-0.079},{"s":11,"t":0.515,"i":-0.068},{"s":11,"t":0.53,"i":-0.088},{"s":11,"t":0.545,"i":-0.092},{"s":11,"t":0.56,"i":-0.076},{"s":11,"t":0.575,"i":-0.083},{"s":11,"t":0.59,"i":-0.070},{"s":11,"t":0.5985,"i":-0.074},
        {"s":11,"t":0.6005,"i":-0.045},{"s":11,"t":0.607,"i":-0.022},{"s":11,"t":0.62,"i":-0.010},{"s":11,"t":0.635,"i":-0.004},{"s":11,"t":0.65,"i":-0.012},{"s":11,"t":0.665,"i":-0.003},{"s":11,"t":0.68,"i":-0.007},{"s":11,"t":0.6993,"i":-0.002},
        {"s":11,"t":0.0095,"i":0.001},{"s":11,"t":0.0245,"i":-0.007},{"s":11,"t":0.0395,"i":0.002},{"s":11,"t":0.0545,"i":-0.003},{"s":11,"t":0.0695,"i":-0.001},{"s":11,"t":0.0845,"i":0.002},
        {"s":11,"t":0.109,"i":0.128},{"s":11,"t":0.1225,"i":0.122},{"s":11,"t":0.1375,"i":0.135},{"s":11,"t":0.1525,"i":0.131},{"s":11,"t":0.1675,"i":0.141},{"s":11,"t":0.1825,"i":0.139},{"s":11,"t":0.1975,"i":0.148},{"s":11,"t":0.2125,"i":0.143},{"s":11,"t":0.2275,"i":0.152},{"s":11,"t":0.2425,"i":0.148},{"s":11,"t":0.2575,"i":0.158},{"s":11,"t":0.2725,"i":0.156},{"s":11,"t":0.2875,"i":0.163},{"s":11,"t":0.3025,"i":0.160},{"s":11,"t":0.3175,"i":0.168},{"s":11,"t":0.3325,"i":0.163},{"s":11,"t":0.3475,"i":0.171},{"s":11,"t":0.3625,"i":0.168},{"s":11,"t":0.3775,"i":0.174},{"s":11,"t":0.3915,"i":0.168},
        {"s":11,"t":0.4175,"i":-0.080},{"s":11,"t":0.4325,"i":-0.066},{"s":11,"t":0.4475,"i":-0.081},{"s":11,"t":0.4625,"i":-0.074},{"s":11,"t":0.4775,"i":-0.075},{"s":11,"t":0.4925,"i":-0.066},{"s":11,"t":0.5075,"i":-0.074},{"s":11,"t":0.5225,"i":-0.080},{"s":11,"t":0.5375,"i":-0.078},{"s":11,"t":0.5525,"i":-0.081},{"s":11,"t":0.5675,"i":-0.069},{"s":11,"t":0.5825,"i":-0.080},
        {"s":11,"t":0.6135,"i":-0.018},{"s":11,"t":0.6275,"i":-0.004},{"s":11,"t":0.6425,"i":-0.010},{"s":11,"t":0.6575,"i":-0.005},{"s":11,"t":0.6725,"i":-0.001},{"s":11,"t":0.689,"i":-0.008},

        {"s":12,"t":0.0025,"i":0.001},{"s":12,"t":0.017,"i":-0.004},{"s":12,"t":0.032,"i":-0.018},{"s":12,"t":0.047,"i":0.002},{"s":12,"t":0.062,"i":-0.005},{"s":12,"t":0.077,"i":0.001},{"s":12,"t":0.092,"i":-0.011},{"s":12,"t":0.0995,"i":0.000},
        {"s":12,"t":0.1002,"i":0.150},
        {"s":12,"t":0.103,"i":0.137},{"s":12,"t":0.115,"i":0.132},{"s":12,"t":0.13,"i":0.143},{"s":12,"t":0.145,"i":0.137},{"s":12,"t":0.16,"i":0.152},{"s":12,"t":0.175,"i":0.147},{"s":12,"t":0.19,"i":0.158},{"s":12,"t":0.205,"i":0.152},{"s":12,"t":0.22,"i":0.165},{"s":12,"t":0.235,"i":0.159},{"s":12,"t":0.25,"i":0.169},{"s":12,"t":0.265,"i":0.163},{"s":12,"t":0.28,"i":0.177},{"s":12,"t":0.295,"i":0.170},{"s":12,"t":0.31,"i":0.181},{"s":12,"t":0.325,"i":0.175},{"s":12,"t":0.34,"i":0.184},{"s":12,"t":0.355,"i":0.177},{"s":12,"t":0.37,"i":0.198},{"s":12,"t":0.385,"i":0.184},{"s":12,"t":0.398,"i":0.197},
        {"s":12,"t":0.4003,"i":-0.23},
        {"s":12,"t":0.403,"i":-0.118},{"s":12,"t":0.41,"i":-0.096},{"s":12,"t":0.425,"i":-0.110},{"s":12,"t":0.44,"i":-0.088},{"s":12,"t":0.455,"i":-0.102},{"s":12,"t":0.47,"i":-0.120},{"s":12,"t":0.485,"i":-0.095},{"s":12,"t":0.5,"i":-0.108},{"s":12,"t":0.515,"i":-0.124},{"s":12,"t":0.53,"i":-0.098},{"s":12,"t":0.545,"i":-0.112},{"s":12,"t":0.56,"i":-0.103},{"s":12,"t":0.575,"i":-0.093},{"s":12,"t":0.59,"i":-0.108},{"s":12,"t":0.5985,"i":-0.100},
        {"s":12,"t":0.6005,"i":-0.055},{"s":12,"t":0.607,"i":-0.026},{"s":12,"t":0.62,"i":-0.012},{"s":12,"t":0.635,"i":-0.005},{"s":12,"t":0.65,"i":-0.014},{"s":12,"t":0.665,"i":-0.004},{"s":12,"t":0.68,"i":-0.010},{"s":12,"t":0.6993,"i":-0.004},
        {"s":12,"t":0.0095,"i":-0.007},{"s":12,"t":0.0245,"i":-0.009},{"s":12,"t":0.0395,"i":-0.006},{"s":12,"t":0.0545,"i":-0.003},{"s":12,"t":0.0695,"i":0.003},{"s":12,"t":0.0845,"i":-0.004},
        {"s":12,"t":0.109,"i":0.141},{"s":12,"t":0.1225,"i":0.139},{"s":12,"t":0.1375,"i":0.145},{"s":12,"t":0.1525,"i":0.143},{"s":12,"t":0.1675,"i":0.153},{"s":12,"t":0.1825,"i":0.150},{"s":12,"t":0.1975,"i":0.159},{"s":12,"t":0.2125,"i":0.156},{"s":12,"t":0.2275,"i":0.160},{"s":12,"t":0.2425,"i":0.165},{"s":12,"t":0.2575,"i":0.168},{"s":12,"t":0.2725,"i":0.168},{"s":12,"t":0.2875,"i":0.175},{"s":12,"t":0.3025,"i":0.175},{"s":12,"t":0.3175,"i":0.179},{"s":12,"t":0.3325,"i":0.179},{"s":12,"t":0.3475,"i":0.182},{"s":12,"t":0.3625,"i":0.186},{"s":12,"t":0.3775,"i":0.190},{"s":12,"t":0.3915,"i":0.189},
        {"s":12,"t":0.4175,"i":-0.108},{"s":12,"t":0.4325,"i":-0.097},{"s":12,"t":0.4475,"i":-0.099},{"s":12,"t":0.4625,"i":-0.114},{"s":12,"t":0.4775,"i":-0.106},{"s":12,"t":0.4925,"i":-0.099},{"s":12,"t":0.5075,"i":-0.118},{"s":12,"t":0.5225,"i":-0.110},{"s":12,"t":0.5375,"i":-0.104},{"s":12,"t":0.5525,"i":-0.106},{"s":12,"t":0.5675,"i":-0.099},{"s":12,"t":0.5825,"i":-0.101},
        {"s":12,"t":0.6135,"i":-0.020},{"s":12,"t":0.6275,"i":-0.006},{"s":12,"t":0.6425,"i":-0.011},{"s":12,"t":0.6575,"i":-0.006},{"s":12,"t":0.6725,"i":-0.004},{"s":12,"t":0.689,"i":-0.008},

        {"s":13,"t":0.0025,"i":-0.002},{"s":13,"t":0.017,"i":0.005},{"s":13,"t":0.032,"i":-0.003},{"s":13,"t":0.047,"i":-0.001},{"s":13,"t":0.062,"i":0.002},{"s":13,"t":0.077,"i":-0.006},{"s":13,"t":0.092,"i":0.003},{"s":13,"t":0.0995,"i":-0.005},
        {"s":13,"t":0.1002,"i":0.160},
        {"s":13,"t":0.103,"i":0.133},{"s":13,"t":0.115,"i":0.147},{"s":13,"t":0.13,"i":0.143},{"s":13,"t":0.145,"i":0.155},{"s":13,"t":0.16,"i":0.149},{"s":13,"t":0.175,"i":0.163},{"s":13,"t":0.19,"i":0.159},{"s":13,"t":0.205,"i":0.170},{"s":13,"t":0.22,"i":0.164},{"s":13,"t":0.235,"i":0.175},{"s":13,"t":0.25,"i":0.170},{"s":13,"t":0.265,"i":0.185},{"s":13,"t":0.28,"i":0.178},{"s":13,"t":0.295,"i":0.189},{"s":13,"t":0.31,"i":0.182},{"s":13,"t":0.325,"i":0.195},{"s":13,"t":0.34,"i":0.188},{"s":13,"t":0.355,"i":0.198},{"s":13,"t":0.37,"i":0.191},{"s":13,"t":0.385,"i":0.201},{"s":13,"t":0.398,"i":0.215},
        {"s":13,"t":0.4003,"i":-0.25},
        {"s":13,"t":0.403,"i":-0.120},{"s":13,"t":0.41,"i":-0.138},{"s":13,"t":0.425,"i":-0.125},{"s":13,"t":0.44,"i":-0.148},{"s":13,"t":0.455,"i":-0.118},{"s":13,"t":0.47,"i":-0.135},{"s":13,"t":0.485,"i":-0.152},{"s":13,"t":0.5,"i":-0.128},{"s":13,"t":0.515,"i":-0.140},{"s":13,"t":0.53,"i":-0.122},{"s":13,"t":0.545,"i":-0.145},{"s":13,"t":0.56,"i":-0.130},{"s":13,"t":0.575,"i":-0.138},{"s":13,"t":0.59,"i":-0.125},{"s":13,"t":0.5985,"i":-0.132},
        {"s":13,"t":0.6005,"i":-0.060},{"s":13,"t":0.607,"i":-0.028},{"s":13,"t":0.62,"i":-0.014},{"s":13,"t":0.635,"i":-0.006},{"s":13,"t":0.65,"i":-0.011},{"s":13,"t":0.665,"i":-0.003},{"s":13,"t":0.68,"i":-0.008},{"s":13,"t":0.6993,"i":-0.005},
        {"s":13,"t":0.0095,"i":0.000},{"s":13,"t":0.0245,"i":0.002},{"s":13,"t":0.0395,"i":-0.007},{"s":13,"t":0.0545,"i":0.004},{"s":13,"t":0.0695,"i":-0.004},{"s":13,"t":0.0845,"i":-0.001},
        {"s":13,"t":0.109,"i":0.142},{"s":13,"t":0.1225,"i":0.151},{"s":13,"t":0.1375,"i":0.149},{"s":13,"t":0.1525,"i":0.150},{"s":13,"t":0.1675,"i":0.158},{"s":13,"t":0.1825,"i":0.158},{"s":13,"t":0.1975,"i":0.166},{"s":13,"t":0.2125,"i":0.164},{"s":13,"t":0.2275,"i":0.171},{"s":13,"t":0.2425,"i":0.170},{"s":13,"t":0.2575,"i":0.178},{"s":13,"t":0.2725,"i":0.179},{"s":13,"t":0.2875,"i":0.185},{"s":13,"t":0.3025,"i":0.184},{"s":13,"t":0.3175,"i":0.190},{"s":13,"t":0.3325,"i":0.190},{"s":13,"t":0.3475,"i":0.195},{"s":13,"t":0.3625,"i":0.192},{"s":13,"t":0.3775,"i":0.198},{"s":13,"t":0.3915,"i":0.205},
        {"s":13,"t":0.4175,"i":-0.128},{"s":13,"t":0.4325,"i":-0.140},{"s":13,"t":0.4475,"i":-0.130},{"s":13,"t":0.4625,"i":-0.128},{"s":13,"t":0.4775,"i":-0.145},{"s":13,"t":0.4925,"i":-0.138},{"s":13,"t":0.5075,"i":-0.132},{"s":13,"t":0.5225,"i":-0.131},{"s":13,"t":0.5375,"i":-0.129},{"s":13,"t":0.5525,"i":-0.135},{"s":13,"t":0.5675,"i":-0.139},{"s":13,"t":0.5825,"i":-0.130},
        {"s":13,"t":0.6135,"i":-0.021},{"s":13,"t":0.6275,"i":-0.009},{"s":13,"t":0.6425,"i":-0.008},{"s":13,"t":0.6575,"i":-0.004},{"s":13,"t":0.6725,"i":-0.006},{"s":13,"t":0.689,"i":-0.002},

        {"s":14,"t":0.0025,"i":0.003},{"s":14,"t":0.017,"i":-0.004},{"s":14,"t":0.032,"i":0.000},{"s":14,"t":0.047,"i":-0.007},{"s":14,"t":0.062,"i":0.003},{"s":14,"t":0.077,"i":-0.002},{"s":14,"t":0.092,"i":-0.004},{"s":14,"t":0.0995,"i":0.002},
        {"s":14,"t":0.1002,"i":0.130},
        {"s":14,"t":0.103,"i":0.118},{"s":14,"t":0.115,"i":0.129},{"s":14,"t":0.13,"i":0.124},{"s":14,"t":0.145,"i":0.137},{"s":14,"t":0.16,"i":0.132},{"s":14,"t":0.175,"i":0.142},{"s":14,"t":0.19,"i":0.137},{"s":14,"t":0.205,"i":0.149},{"s":14,"t":0.22,"i":0.144},{"s":14,"t":0.235,"i":0.153},{"s":14,"t":0.25,"i":0.147},{"s":14,"t":0.265,"i":0.159},{"s":14,"t":0.28,"i":0.154},{"s":14,"t":0.295,"i":0.163},{"s":14,"t":0.31,"i":0.157},{"s":14,"t":0.325,"i":0.168},{"s":14,"t":0.34,"i":0.162},{"s":14,"t":0.355,"i":0.170},{"s":14,"t":0.37,"i":0.165},{"s":14,"t":0.385,"i":0.172},{"s":14,"t":0.398,"i":0.166},
        {"s":14,"t":0.4003,"i":-0.272},
        {"s":14,"t":0.403,"i":-0.140},{"s":14,"t":0.41,"i":-0.128},{"s":14,"t":0.425,"i":-0.150},{"s":14,"t":0.44,"i":-0.138},{"s":14,"t":0.455,"i":-0.162},{"s":14,"t":0.47,"i":-0.145},{"s":14,"t":0.485,"i":-0.170},{"s":14,"t":0.5,"i":-0.148},{"s":14,"t":0.515,"i":-0.158},{"s":14,"t":0.53,"i":-0.140},{"s":14,"t":0.545,"i":-0.165},{"s":14,"t":0.56,"i":-0.150},{"s":14,"t":0.575,"i":-0.160},{"s":14,"t":0.59,"i":-0.172},{"s":14,"t":0.5935,"i":-0.209},{"s":14,"t":0.5985,"i":-0.165},
        {"s":14,"t":0.6005,"i":-0.065},{"s":14,"t":0.607,"i":-0.030},{"s":14,"t":0.62,"i":-0.016},{"s":14,"t":0.635,"i":-0.004},{"s":14,"t":0.65,"i":-0.012},{"s":14,"t":0.665,"i":-0.005},{"s":14,"t":0.68,"i":-0.009},{"s":14,"t":0.6993,"i":-0.003},
        {"s":14,"t":0.0095,"i":-0.001},{"s":14,"t":0.0245,"i":0.004},{"s":14,"t":0.0395,"i":-0.005},{"s":14,"t":0.0545,"i":-0.002},{"s":14,"t":0.0695,"i":0.000},{"s":14,"t":0.0845,"i":0.001},
        {"s":14,"t":0.109,"i":0.125},{"s":14,"t":0.1225,"i":0.122},{"s":14,"t":0.1375,"i":0.132},{"s":14,"t":0.1525,"i":0.131},{"s":14,"t":0.1675,"i":0.139},{"s":14,"t":0.1825,"i":0.136},{"s":14,"t":0.1975,"i":0.145},{"s":14,"t":0.2125,"i":0.143},{"s":14,"t":0.2275,"i":0.150},{"s":14,"t":0.2425,"i":0.147},{"s":14,"t":0.2575,"i":0.155},{"s":14,"t":0.2725,"i":0.154},{"s":14,"t":0.2875,"i":0.160},{"s":14,"t":0.3025,"i":0.157},{"s":14,"t":0.3175,"i":0.164},{"s":14,"t":0.3325,"i":0.162},{"s":14,"t":0.3475,"i":0.168},{"s":14,"t":0.3625,"i":0.164},{"s":14,"t":0.3775,"i":0.170},{"s":14,"t":0.3915,"i":0.166},
        {"s":14,"t":0.4175,"i":-0.141},{"s":14,"t":0.4325,"i":-0.139},{"s":14,"t":0.4475,"i":-0.152},{"s":14,"t":0.4625,"i":-0.150},{"s":14,"t":0.4775,"i":-0.155},{"s":14,"t":0.4925,"i":-0.163},{"s":14,"t":0.5075,"i":-0.152},{"s":14,"t":0.5225,"i":-0.150},{"s":14,"t":0.5375,"i":-0.155},{"s":14,"t":0.5525,"i":-0.150},{"s":14,"t":0.5675,"i":-0.158},{"s":14,"t":0.5825,"i":-0.166},
        {"s":14,"t":0.6135,"i":-0.022},{"s":14,"t":0.6275,"i":-0.008},{"s":14,"t":0.6425,"i":-0.010},{"s":14,"t":0.6575,"i":-0.006},{"s":14,"t":0.6725,"i":-0.003},{"s":14,"t":0.689,"i":-0.007}
      ]},
      "mark": {"type": "line", "color": "black", "strokeWidth": 1.25, "clip": true},
      "encoding": {
        "x": {
          "field": "t",
          "type": "quantitative",
          "scale": {"domain": [0.0024, 0.6995], "nice": false, "zero": false},
          "axis": {
            "title": "t [s]",
            "values": [0.1, 0.4, 0.6],
            "format": ".1f",
            "grid": false,
            "tickSize": -6,
            "tickColor": "#6b6b6b",
            "domainColor": "#6b6b6b",
            "labelFont": "DejaVu Sans",
            "labelFontSize": 22,
            "labelColor": "#262626",
            "labelBaseline": "alphabetic",
            "labelPadding": 37,
            "titleFont": "DejaVu Sans",
            "titleFontSize": 24,
            "titleFontWeight": "normal",
            "titleColor": "#262626",
            "titleBaseline": "alphabetic",
            "titlePadding": 25
          }
        },
        "y": {
          "field": "i",
          "type": "quantitative",
          "scale": {"domain": [-0.3245, 0.3035], "nice": false, "zero": false},
          "axis": {
            "title": "I [nA]",
            "values": [-0.3, -0.2, -0.1, 0, 0.1, 0.2, 0.3],
            "labelExpr": "datum.value == 0 ? '0' : (datum.value < 0 ? '-' : '') + format(abs(datum.value), '.1f')",
            "grid": false,
            "tickSize": -6,
            "tickColor": "#6b6b6b",
            "domainColor": "#6b6b6b",
            "labelFont": "DejaVu Sans",
            "labelFontSize": 22,
            "labelColor": "#262626",
            "labelAlign": "center",
            "labelBaseline": "middle",
            "labelPadding": 42,
            "titleFont": "DejaVu Sans",
            "titleFontSize": 24,
            "titleFontWeight": "normal",
            "titleColor": "#262626",
            "titlePadding": 5
          }
        },
        "detail": {"field": "s", "type": "nominal"},
        "order": {"field": "t", "type": "quantitative"}
      }
    },
    {
      "data": {"values": [{}]},
      "mark": {"type": "text", "text": "25 °C\u00a0\u00a0Deactivation", "align": "right", "baseline": "alphabetic", "font": "DejaVu Sans", "fontSize": 18.5, "color": "black"},
      "encoding": {"x": {"datum": 0.6908}, "y": {"datum": 0.2972}}
    },
    {
      "data": {"values": [{}]},
      "mark": {"type": "text", "text": "BBP Channelpedia ID 31748 rep 2", "angle": 270, "align": "center", "baseline": "middle", "font": "DejaVu Sans", "fontSize": 13.5, "color": "black"},
      "encoding": {"x": {"datum": 0.7068}, "y": {"datum": -0.0138}}
    }
  ]
}
